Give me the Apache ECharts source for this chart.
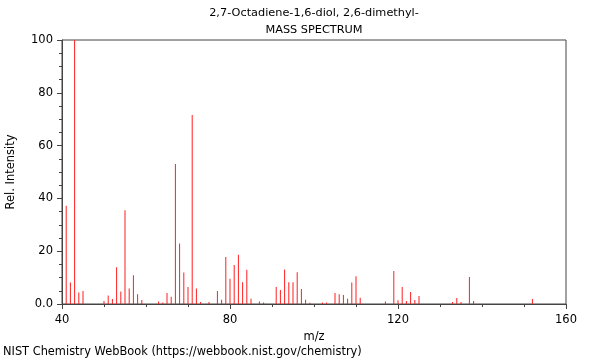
<!DOCTYPE html>
<html>
<head>
<meta charset="utf-8">
<script src="https://cdn.jsdelivr.net/npm/echarts@6/dist/echarts.min.js"></script>
<style>html,body{margin:0;padding:0;background:#fff;}#c{width:600px;height:360px;}</style>
</head>
<body>
<div id="c"></div>
<script>
var titleLines = ["2,7-Octadiene-1,6-diol, 2,6-dimethyl-", "MASS SPECTRUM"];
var footer = "NIST Chemistry WebBook (https://webbook.nist.gov/chemistry)";
var mz = [41, 42, 43, 44, 45, 50, 51, 52, 53, 54, 55, 56, 57, 58, 59, 63, 64, 65, 66, 67, 68, 69, 70,
  71, 72, 73, 75, 77, 78, 79, 80, 81, 82, 83, 84, 85, 87, 88, 91, 92, 93, 94, 95, 96, 97, 98, 99,
  102, 103, 105, 106, 107, 108, 109, 110, 111, 117, 119, 120, 121, 122, 123, 124, 125,
  133, 134, 135, 137, 138, 152];
var intensity = [37.2, 8.1, 100, 4.4, 4.9, 1.1, 3.2, 1.9, 13.9, 4.7, 35.5, 5.9, 10.9, 3.7, 1.5, 0.9, 0.6, 4.2, 2.7, 53.0, 22.9, 11.9, 6.4,
  71.6, 5.9, 0.8, 0.8, 4.9, 1.6, 17.8, 9.6, 14.8, 18.7, 8.2, 13.0, 2.0, 0.9, 0.6, 6.4, 5.3, 13.1, 8.2, 8.2, 12.0, 5.7, 1.6, 0.5,
  0.6, 0.6, 4.2, 3.7, 3.4, 2.0, 8.1, 10.5, 2.4, 0.9, 12.5, 1.4, 6.4, 1.1, 4.5, 1.5, 3.0,
  0.8, 2.3, 0.8, 10.2, 1.1, 1.9];
var xTicks = [40, 80, 120, 160];
var yTicks = [0, 20, 40, 60, 80, 100];

var data = mz.map(function (m, i) { return [m, intensity[i]]; });
var font = 'DejaVu Sans';
var chart = echarts.init(document.getElementById('c'), null, {renderer: 'canvas'});
chart.setOption({
  animation: false,
  backgroundColor: '#fff',
  graphic: [
    {type: 'text', x: 314, y: 13, style: {text: titleLines[0], font: '11.3px "DejaVu Sans"', fill: '#000', textAlign: 'center', textVerticalAlign: 'middle'}},
    {type: 'text', x: 314, y: 30, style: {text: titleLines[1], font: '11.3px "DejaVu Sans"', fill: '#000', textAlign: 'center', textVerticalAlign: 'middle'}},
    {type: 'text', x: 3, y: 352, style: {text: footer, font: '11.4px "DejaVu Sans"', fill: '#000', textAlign: 'left', textVerticalAlign: 'middle'}}
  ],
  grid: {left: 62, right: 34, top: 40, bottom: 56, containLabel: false, outerBoundsMode: 'none',
    show: true, borderColor: '#444', borderWidth: 1, backgroundColor: 'transparent'},
  xAxis: {
    type: 'value', min: xTicks[0], max: xTicks[xTicks.length - 1], interval: 40,
    name: 'm/z', nameLocation: 'middle', nameGap: 23,
    nameTextStyle: {fontFamily: font, fontSize: 11.5, color: '#000'},
    axisLine: {show: true, lineStyle: {color: '#444'}},
    axisTick: {show: true, length: 5, lineStyle: {color: '#444'}},
    minorTick: {show: true, splitNumber: 4, length: 3, lineStyle: {color: '#444'}},
    axisLabel: {fontFamily: font, fontSize: 11.5, color: '#000', margin: 10},
    splitLine: {show: false}
  },
  yAxis: {
    type: 'value', min: yTicks[0], max: yTicks[yTicks.length - 1], interval: 20,
    name: 'Rel. Intensity', nameLocation: 'middle', nameGap: 45, nameRotate: 90,
    nameTextStyle: {fontFamily: font, fontSize: 11.5, color: '#000'},
    axisLine: {show: true, lineStyle: {color: '#444'}},
    axisTick: {show: true, length: 5, lineStyle: {color: '#444'}},
    minorTick: {show: true, splitNumber: 4, length: 3, lineStyle: {color: '#444'}},
    axisLabel: {fontFamily: font, fontSize: 11.5, color: '#000', margin: 9,
      formatter: function (v) { return v === 0 ? '0.0' : String(v); }},
    splitLine: {show: false}
  },
  series: [{
    type: 'bar', data: data, barWidth: 1, barMinHeight: 0,
    itemStyle: {color: '#ff2020'}, silent: true
  }]
});
</script>
</body>
</html>
